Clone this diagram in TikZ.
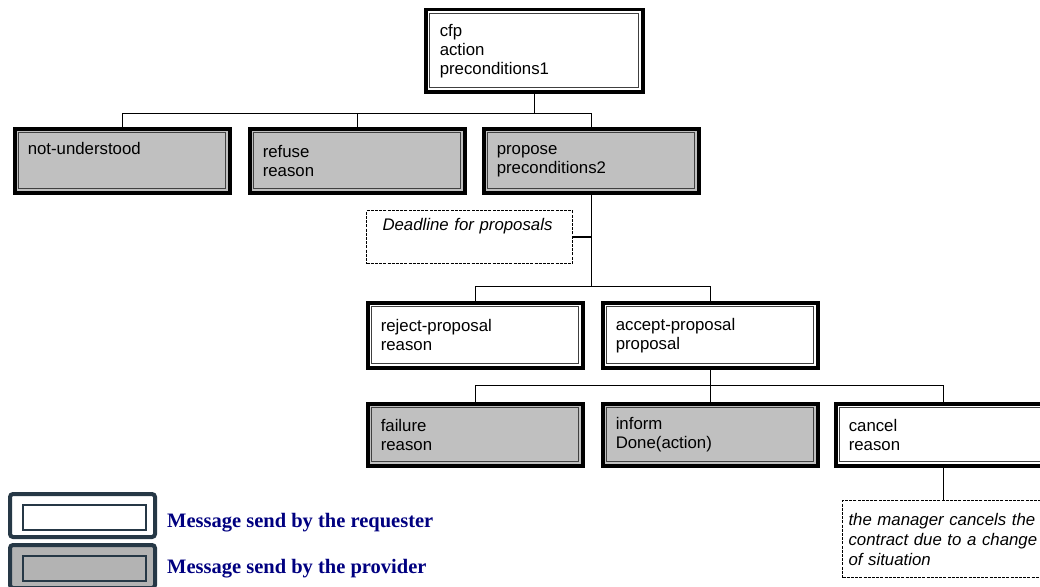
\documentclass[tikz,border=0pt]{standalone}
\usepackage{fontspec}
\setmainfont{Liberation Sans}
\newfontfamily\keyfont{Liberation Serif}
\definecolor{msggray}{RGB}{192,192,192}
\definecolor{keyframe}{RGB}{38,56,70}
\definecolor{keygray}{RGB}{179,179,179}
\definecolor{keyblue}{RGB}{0,0,128}
\begin{document}
\begin{tikzpicture}[x=1pt,y=-1pt,
                msg/.style={draw,line width=3.5pt,anchor=north west,text width=189pt,inner xsep=13pt,
                    align=left,font=\fontsize{16.8}{19}\selectfont,
                    path picture={\draw[line width=1.2pt,black!75]
                        ([shift={(4pt,4pt)}]path picture bounding box.south west) rectangle
                        ([shift={(-4pt,-4pt)}]path picture bounding box.north east);}},
                req/.style={msg,fill=white},
                prov/.style={msg,fill=msggray},
                note/.style={draw,line width=1pt,dash pattern=on 3pt off 1.2pt,anchor=north west,
                    align=left,font=\fontsize{16.8}{20}\selectfont\itshape},
                conn/.style={line width=1.3pt},
                keybox/.style={draw=keyframe,line width=4pt,rounded corners=3pt,anchor=north west,
                    minimum width=145pt,minimum height=43pt,
                    path picture={\draw[line width=1.2pt,keyframe,sharp corners]
                        ([shift={(13pt,7pt)}]path picture bounding box.south west) rectangle
                        ([shift={(-9pt,-11pt)}]path picture bounding box.north east);}},
                keytext/.style={anchor=base west,inner sep=0pt,text=keyblue,
                    font=\keyfont\bfseries\fontsize{20.5}{24}\selectfont}]
                \useasboundingbox (0,0) rectangle (1040,586);
                \clip (0,0) rectangle (1040,586);
                \node[req,minimum width=217pt,minimum height=82pt] (cfp) at (424,8) {cfp\\action\\preconditions1};
                \node[prov,minimum height=64pt] (notund) at (13,127) {not-understood\\\strut};
                \node[prov,minimum height=64pt] (refuse) at (248,127) {refuse\\reason};
                \node[prov,minimum height=64pt] (propose) at (482,127) {propose\\preconditions2};
                \node[note,text width=174pt,inner xsep=16pt,minimum height=53pt] (deadline) at (366,210) {Deadline for proposals\\\strut};
                \node[req,minimum height=65pt] (reject) at (366,301) {reject-proposal\\reason};
                \node[req,minimum height=65pt] (accept) at (601,301) {accept-proposal\\proposal};
                \node[prov,minimum height=62pt] (failure) at (366,402) {failure\\reason};
                \node[prov,minimum height=62pt] (inform) at (601,402) {inform\\Done(action)};
                \node[req,minimum height=62pt] (cancel) at (834,402) {cancel\\reason};
                \node[note,text width=200pt,inner xsep=6pt,minimum height=77pt] (cnote) at (842,500)
                    {the manager cancels the\\contract due to a change\\of situation};
                \draw[conn] (cfp.south) -- ++(0,20) coordinate (j1);
                \draw[conn] (notund.north) |- (j1) -| (propose.north);
                \draw[conn] (refuse.north) -- (refuse.north |- j1);
                \draw[conn] (propose.south) -- ++(0,92) coordinate (j2);
                \draw[conn] (reject.north) |- (j2) -| (accept.north);
                \draw[conn] (deadline.east) -- (deadline.east -| propose.south);
                \draw[conn] (accept.south) -- ++(0,16) coordinate (j3);
                \draw[conn] (failure.north) |- (j3) -| (cancel.north);
                \draw[conn] (inform.north) -- (inform.north |- j3);
                \draw[conn] (cancel.south) -- (cancel.south |- cnote.north);
                \node[keybox,fill=white] (reqkey) at (8,492) {};
                \node[keybox,fill=keygray] (provkey) at (8,543) {};
                \node[keytext] (reqtext) at (167,527) {Message send by the requester};
                \node[keytext] (provtext) at (167,573) {Message send by the provider};
            \end{tikzpicture}
\end{document}
